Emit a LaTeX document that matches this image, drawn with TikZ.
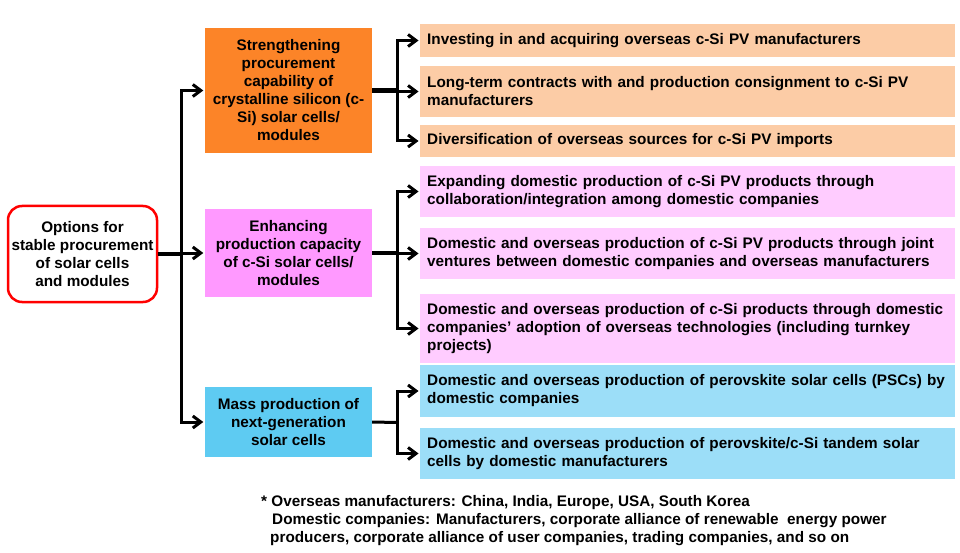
\documentclass[tikz,border=0pt]{standalone}
\usepackage{fontspec}
\setmainfont{Liberation Sans}
\usetikzlibrary{arrows.meta}
\definecolor{orangeD}{RGB}{252,132,40}
\definecolor{orangeL}{RGB}{252,204,166}
\definecolor{pinkD}{RGB}{255,153,255}
\definecolor{pinkL}{RGB}{255,204,255}
\definecolor{blueD}{RGB}{94,203,242}
\definecolor{blueL}{RGB}{156,222,248}
\begin{document}
\begin{tikzpicture}[x=1pt, y=-1pt,
  every node/.style={inner sep=0pt, font=\fontsize{15.3}{18}\selectfont\bfseries},
  root/.style={draw=red, line width=2.5pt, rounded corners=14pt, minimum width=149pt, minimum height=96pt, align=center},
  cat/.style={minimum width=167pt, align=center},
  item/.style={anchor=west, text width=521pt, inner xsep=7pt, align=left},
  link/.style={line width=3pt, -{Straight Barb[length=8pt,width=12pt]}, shorten >=1.5pt},
  trunk/.style={line width=4.5pt}]
  \useasboundingbox (0,0) rectangle (960,553);
  % main option and the three ways
  \node[root] (opt) at (82.5,254) {Options for\\stable procurement\\of solar cells\\and modules};
  \node[cat, fill=orangeD, minimum height=125pt] (s1) at (288.5,90.5) {Strengthening\\procurement\\capability of\\crystalline silicon (c-\\Si) solar cells/\\modules};
  \node[cat, fill=pinkD, minimum height=88pt] (s2) at (288.5,253) {Enhancing\\production capacity\\of c-Si solar cells/\\modules};
  \node[cat, fill=blueD, minimum height=70pt] (s3) at (288.5,422) {Mass production of\\next-generation\\solar cells};
  % measures
  \node[item, fill=orangeL, minimum height=33pt] (r1) at (420,40.5) {Investing in and acquiring overseas c-Si PV manufacturers};
  \node[item, fill=orangeL, minimum height=51pt] (r2) at (420,91.5) {Long-term contracts with and production consignment to c-Si PV\\manufacturers};
  \node[item, fill=orangeL, minimum height=32pt] (r3) at (420,141) {Diversification of overseas sources for c-Si PV imports};
  \node[item, fill=pinkL, minimum height=51pt] (r4) at (420,191.5) {Expanding domestic production of c-Si PV products through\\collaboration/integration among domestic companies};
  \node[item, fill=pinkL, minimum height=51pt] (r5) at (420,253.5) {Domestic and overseas production of c-Si PV products through joint\\ventures between domestic companies and overseas manufacturers};
  \node[item, fill=pinkL, minimum height=69pt] (r6) at (420,328.5) {Domestic and overseas production of c-Si products through domestic\\companies’ adoption of overseas technologies (including turnkey\\projects)};
  \node[item, fill=blueL, minimum height=52pt] (r7) at (420,391) {Domestic and overseas production of perovskite solar cells (PSCs) by\\domestic companies};
  \node[item, fill=blueL, minimum height=51pt] (r8) at (420,453.5) {Domestic and overseas production of perovskite/c-Si tandem solar\\cells by domestic manufacturers};
  % note
  \node[anchor=north west, align=left] (note) at (261,495) {* Overseas manufacturers: China, India, Europe, USA, South Korea\\
    \hspace*{11pt}Domestic companies: Manufacturers, corporate alliance of renewable\ \ energy power\\
    \hspace*{9pt}producers, corporate alliance of user companies, trading companies, and so on};
  % branch points
  \coordinate (j0) at (181,254);
  \coordinate (j1) at (397,90.5);
  \coordinate (j2) at (397,253);
  \coordinate (j3) at (397,422.5);
  \draw[trunk] (opt.east) -- (j0);
  \draw[trunk] (s1.east) -- (j1);
  \draw[trunk] (s2.east) -- (j2);
  \draw[line width=3pt] (s3.east) -- (j3);
  \foreach \s in {s1,s2,s3}
    \draw[link] (j0) |- (\s.west);
  \foreach \j/\r in {j1/r1,j1/r2,j1/r3,j2/r4,j2/r5,j2/r6,j3/r7,j3/r8}
    \draw[link] (\j) |- (\r.west);
\end{tikzpicture}
\end{document}
